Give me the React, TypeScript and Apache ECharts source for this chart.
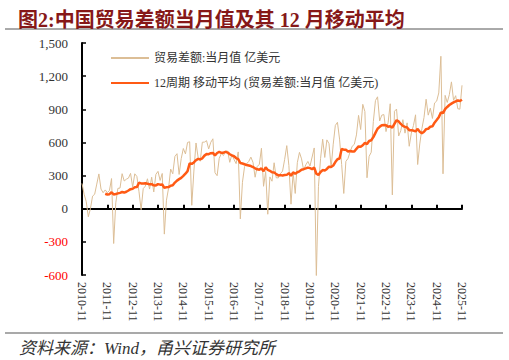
import React, { useEffect, useRef } from "react";
import * as echarts from "echarts";

// Monthly categories: 2010-11 .. 2025-11
const startYear = 2010;
const startMonth = 11;
const monthCount = 181;
const months: string[] = [];
for (let i = 0; i < monthCount; i++) {
  const m0 = startMonth - 1 + i;
  const y = startYear + Math.floor(m0 / 12);
  const m = (m0 % 12) + 1;
  months.push(`${y}-${m < 10 ? "0" + m : m}`);
}

// 贸易差额:当月值 (亿美元)
const tradeBalance: number[] = [
  // 2010-11, 2010-12
  229, 131,
  // 2011
  65, -73, 1, 114, 131, 223, 315, 178, 145, 170, 145, 165,
  // 2012
  273, -315, 53, 184, 187, 317, 251, 267, 277, 320, 196, 316,
  // 2013
  292, 153, -9, 182, 204, 271, 178, 285, 152, 311, 338, 256,
  // 2014
  319, -230, 77, 185, 359, 316, 473, 498, 310, 454, 545, 496,
  // 2015
  600, 606, 31, 341, 595, 465, 430, 602, 603, 616, 541, 601,
  // 2016
  633, 326, 299, 456, 500, 481, 523, 521, 420, 491, 446, 408,
  // 2017
  514, -92, 239, 381, 408, 428, 467, 419, 285, 382, 402, 547,
  // 2018
  203, 337, -50, 288, 249, 416, 280, 279, 317, 340, 447, 571,
  // 2019
  392, 41, 326, 138, 417, 510, 451, 348, 397, 428, 387, 468,
  // 2020
  550, -620, 199, 453, 629, 464, 623, 589, 370, 584, 754, 782,
  // 2021
  630, 400, 138, 429, 455, 515, 566, 583, 668, 845, 717, 945,
  // 2022
  880, 280, 474, 511, 788, 979, 1013, 794, 847, 852, 698, 780,
  // 2023
  950, 125, 882, 902, 658, 706, 806, 684, 777, 565, 684, 753,
  // 2024
  850, 400, 586, 724, 826, 991, 847, 910, 817, 957, 974, 1048,
  // 2025
  1380, 316, 1026, 962, 1032, 1148, 982, 1023, 905, 901, 1117,
];

const yTicks = { min: -600, max: 1500, interval: 300 };

const seriesNames = [
  "贸易差额:当月值 亿美元",
  "12周期 移动平均 (贸易差额:当月值 亿美元)",
];

const titleText = "图2:中国贸易差额当月值及其 12 月移动平均";
const sourceText = "资料来源：Wind，甬兴证券研究所";

// 12-period moving average of the monthly series (the chart's second line)
function movingAverage(values: number[], period: number): (number | null)[] {
  return values.map((_, i) => {
    if (i < period - 1) return null;
    let s = 0;
    for (let k = i - period + 1; k <= i; k++) s += values[k];
    return Math.round((s / period) * 10) / 10;
  });
}
const tradeBalanceMA12 = movingAverage(tradeBalance, 12);

const FONT = "'Liberation Serif', 'Noto Sans CJK SC', serif";

export default function App() {
  const ref = useRef<HTMLDivElement>(null);
  useEffect(() => {
    if (!ref.current) return;
    const chart = echarts.init(ref.current, undefined, { renderer: "svg" });
    const everyYear = (idx: number) => idx % 12 === 0;
    chart.setOption({
      animation: false,
      backgroundColor: "#ffffff",
      textStyle: { fontFamily: FONT },
      title: [
        {
          text: titleText,
          left: 13,
          top: 5,
          textStyle: {
            fontFamily: FONT,
            fontSize: 20,
            fontWeight: "bold",
            color: "#861818",
          },
        },
        {
          text: sourceText,
          left: 14,
          top: 335,
          textStyle: {
            fontFamily: FONT,
            fontSize: 17,
            fontWeight: "normal",
            fontStyle: "italic",
            color: "#333333",
          },
        },
      ],
      graphic: [
        {
          type: "line",
          shape: { x1: 5, y1: 29, x2: 503, y2: 29 },
          style: { stroke: "#555555", lineWidth: 1 },
        },
        {
          type: "line",
          shape: { x1: 5, y1: 333, x2: 503, y2: 333 },
          style: { stroke: "#555555", lineWidth: 1.2 },
        },
      ],
      legend: {
        orient: "vertical",
        left: 105,
        top: 47,
        itemWidth: 38,
        itemHeight: 14,
        itemGap: 13,
        itemStyle: { opacity: 0 },
        data: seriesNames,
        textStyle: { fontFamily: FONT, fontSize: 12, color: "#333333" },
      },
      grid: { left: 82, right: 47, top: 43, bottom: 85, containLabel: false },
      xAxis: [
        {
          type: "category",
          data: months,
          boundaryGap: false,
          axisLine: { onZero: true, lineStyle: { color: "#000000", width: 2 } },
          axisTick: {
            show: true,
            inside: true,
            length: 4,
            interval: (idx: number) => everyYear(idx),
            lineStyle: { color: "#000000", width: 2 },
          },
          axisLabel: { show: false },
          splitLine: { show: false },
        },
        {
          type: "category",
          data: months,
          boundaryGap: false,
          position: "bottom",
          axisLine: { show: false, onZero: false },
          axisTick: { show: false },
          axisLabel: {
            interval: (idx: number) => everyYear(idx),
            rotate: -90,
            margin: 7,
            fontFamily: FONT,
            fontSize: 12,
            color: "#333333",
          },
          splitLine: { show: false },
        },
      ],
      yAxis: {
        type: "value",
        min: yTicks.min,
        max: yTicks.max,
        interval: yTicks.interval,
        axisLine: { show: true, onZero: false, lineStyle: { color: "#000000", width: 2 } },
        axisTick: { show: true, inside: true, length: 4, lineStyle: { color: "#000000", width: 1.5 } },
        splitLine: { show: false },
        axisLabel: {
          margin: 14,
          fontFamily: FONT,
          fontSize: 13,
          formatter: (v: number) => v.toLocaleString("en-US"),
          color: (v: any) => (Number(v) < 0 ? "#FF0000" : "#333333"),
        },
      },
      series: [
        {
          name: seriesNames[0],
          type: "line",
          xAxisIndex: 0,
          data: tradeBalance,
          symbol: "none",
          lineStyle: { color: "#DCBE96", width: 1 },
          itemStyle: { color: "#DCBE96" },
          z: 2,
        },
        {
          name: seriesNames[1],
          type: "line",
          xAxisIndex: 0,
          data: tradeBalanceMA12,
          symbol: "none",
          connectNulls: false,
          lineStyle: { color: "#FF5A14", width: 2.5 },
          itemStyle: { color: "#FF5A14" },
          z: 3,
        },
      ],
    });
    return () => chart.dispose();
  }, []);
  return (
    <div
      ref={ref}
      style={{ position: "absolute", left: 0, top: 0, width: 509, height: 360 }}
    />
  );
}
